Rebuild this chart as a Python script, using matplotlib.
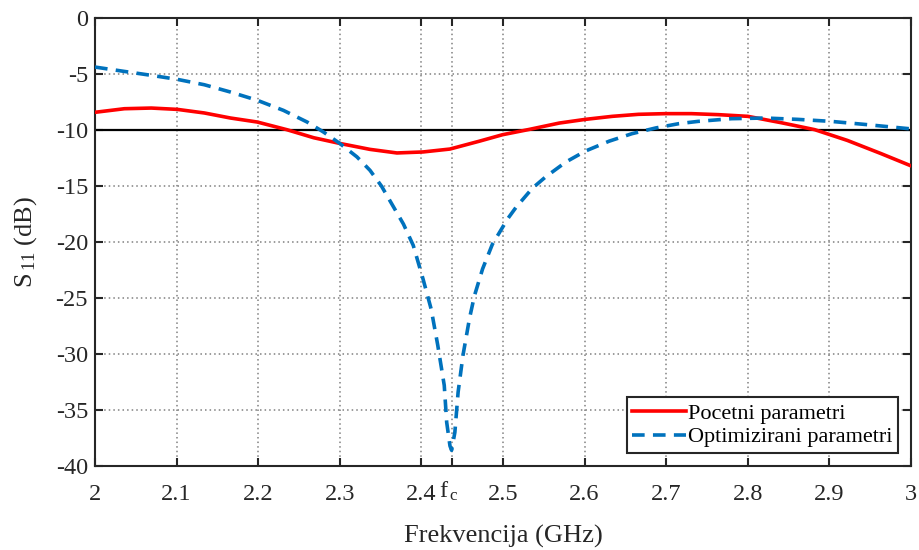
import matplotlib
matplotlib.use("Agg")
import matplotlib.pyplot as plt
from matplotlib.transforms import ScaledTranslation

plt.rcParams['font.family'] = ['Liberation Serif', 'DejaVu Serif']
plt.rcParams['mathtext.fontset'] = 'custom'
plt.rcParams['mathtext.rm'] = 'Liberation Serif'
plt.rcParams['mathtext.it'] = 'Liberation Serif:italic'

# Data (frequency in GHz, S11 in dB)
f_red = [2.0, 2.036, 2.069, 2.101, 2.134, 2.166, 2.199, 2.235, 2.268, 2.300, 2.337,
         2.370, 2.402, 2.435, 2.471, 2.4995, 2.532, 2.569, 2.601, 2.634, 2.666,
         2.699, 2.731, 2.764, 2.800, 2.841, 2.882, 2.922, 2.963, 3.0]
s_red = [-8.42, -8.10, -8.04, -8.16, -8.48, -8.93, -9.29, -9.97, -10.69, -11.2, -11.73,
         -12.05, -11.96, -11.7, -11.0, -10.42, -9.95, -9.38, -9.05, -8.78, -8.6,
         -8.54, -8.54, -8.63, -8.78, -9.35, -9.97, -10.93, -12.1, -13.2]

f_blue = [2.0, 2.036, 2.069, 2.101, 2.134, 2.166, 2.199, 2.231, 2.260, 2.280, 2.300,
          2.321, 2.337, 2.351, 2.378, 2.390, 2.402, 2.412, 2.420, 2.428, 2.431,
          2.435, 2.437, 2.441, 2.445, 2.451, 2.459, 2.465, 2.475, 2.487, 2.506,
          2.516, 2.536, 2.552, 2.577, 2.601, 2.630, 2.658, 2.687, 2.715, 2.739,
          2.780, 2.821, 2.861, 2.902, 2.943, 3.0]
s_blue = [-4.38, -4.77, -5.12, -5.48, -5.96, -6.61, -7.35, -8.25, -9.29, -10.18, -11.2,
          -12.4, -13.6, -15.0, -18.4, -20.3, -23.3, -26.0, -29.2, -32.8, -36.1,
          -38.2, -38.6, -37.0, -33.4, -30.1, -26.8, -24.8, -22.4, -20.2, -17.9,
          -16.9, -15.2, -14.2, -12.86, -11.88, -11.0, -10.33, -9.82, -9.44, -9.23,
          -8.99, -8.93, -9.05, -9.23, -9.5, -9.9]

xticks = [2.0, 2.1, 2.2, 2.3, 2.4, 2.437, 2.5, 2.6, 2.7, 2.8, 2.9, 3.0]
xticklabels = ['2', '2.1', '2.2', '2.3', '2.4', r'$\mathrm{f}_{\,\mathrm{c}}$', '2.5', '2.6',
               '2.7', '2.8', '2.9', '3']
yticks = [0, -5, -10, -15, -20, -25, -30, -35, -40]
yticklabels = ['0', '-5', '-10', '-15', '-20', '-25', '-30', '-35', '-40']

fig = plt.figure(figsize=(9.2, 5.5), dpi=100)
ax = fig.add_axes([95/920, 1-466/550, 816/920, 448/550])

ax.axhline(-10, color='black', lw=1.6, zorder=2)
ax.plot(f_red, s_red, color=(1, 0, 0), lw=2.6, label='Pocetni parametri', zorder=3)
ax.plot(f_blue, s_blue, color=(0, 0.447, 0.741), lw=2.6, ls=(0, (3.5, 2.3)),
        label='Optimizirani parametri', zorder=3)

ax.set_xlim(2, 3)
ax.set_ylim(-40, 0)
ax.set_xticks(xticks)
ax.set_xticklabels(xticklabels)
ax.set_yticks(yticks)
ax.set_yticklabels(yticklabels)
ax.grid(True, color=(0.5, 0.5, 0.5), ls=(0, (1, 2)), lw=1.1)
ax.tick_params(direction='in', length=6, width=1.5, top=True, right=True,
               labelsize=17.5, colors=(0.15, 0.15, 0.15), labelcolor=(0.15, 0.15, 0.15))
ax.tick_params(axis='x', pad=13)
ax.tick_params(axis='y', pad=5)
for s in ax.spines.values():
    s.set_linewidth(1.5)
    s.set_color((0.15, 0.15, 0.15))

# lift the f_c label so that "f" sits on the same baseline as the numbers
fc_label = ax.get_xticklabels()[5]
fc_label.set_transform(fc_label.get_transform() + ScaledTranslation(-2/72, 3/72, fig.dpi_scale_trans))

ax.set_xlabel('Frekvencija (GHz)', fontsize=19, labelpad=14, color=(0.15, 0.15, 0.15))
ax.set_ylabel(r'S$_{\,11}$ (dB)', fontsize=19, labelpad=12, color=(0.15, 0.15, 0.15))

leg = ax.legend(loc='lower right', bbox_to_anchor=(0.984, 0.029), borderaxespad=0,
                fontsize=16, fancybox=False, framealpha=1, edgecolor=(0.15, 0.15, 0.15),
                handlelength=2.4, handletextpad=0.1, borderpad=0.25, labelspacing=0.15)
leg.get_frame().set_linewidth(1.5)

fig.savefig('out.png', dpi=100)
